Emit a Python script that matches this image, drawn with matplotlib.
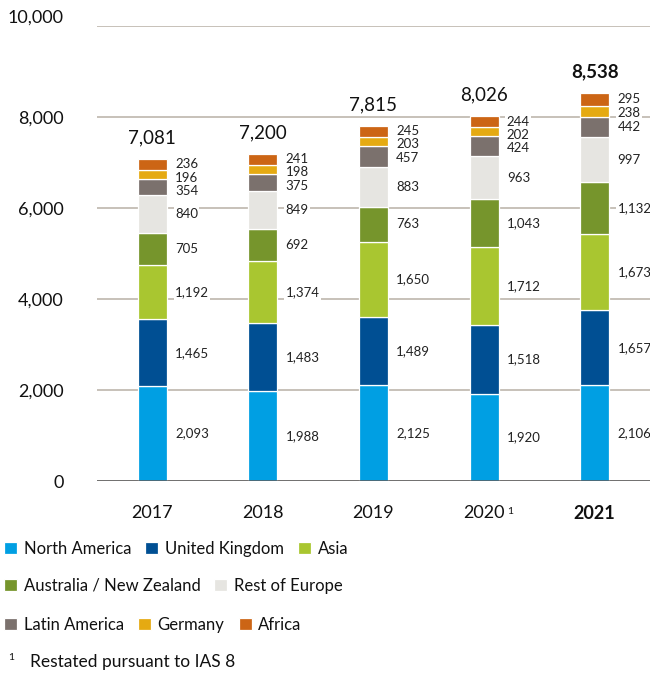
import matplotlib
matplotlib.use("Agg")
import matplotlib.pyplot as plt
import matplotlib.transforms as mtransforms
import numpy as np

plt.rcParams['font.family'] = ['Lato', 'DejaVu Sans']

years = ['2017', '2018', '2019', '2020', '2021']
regions = ['North America', 'United Kingdom', 'Asia', 'Australia / New Zealand',
           'Rest of Europe', 'Latin America', 'Germany', 'Africa']
colors = ['#009fe3', '#004f93', '#a9c630', '#76952c',
          '#e6e5e1', '#7b716d', '#e5aa12', '#cc6515']

north_america = [2093, 1988, 2125, 1920, 2106]
united_kingdom = [1465, 1483, 1489, 1518, 1657]
asia = [1192, 1374, 1650, 1712, 1673]
australia_nz = [705, 692, 763, 1043, 1132]
rest_of_europe = [840, 849, 883, 963, 997]
latin_america = [354, 375, 457, 424, 442]
germany = [196, 198, 203, 202, 238]
africa = [236, 241, 245, 244, 295]
totals = [7081, 7200, 7815, 8026, 8538]

series = [north_america, united_kingdom, asia, australia_nz,
          rest_of_europe, latin_america, germany, africa]

fig = plt.figure(figsize=(6.5, 6.74), dpi=100)
ax = fig.add_axes([0.149, 0.286, 0.851, 0.675])

x = np.arange(len(years))
w = 0.262
bottom = np.zeros(len(years))
bars = []
for vals, col, name in zip(series, colors, regions):
    b = ax.bar(x, vals, w, bottom=bottom, color=col, edgecolor='white',
               linewidth=0.9, label=name, zorder=3)
    bars.append(b)
    bottom += np.array(vals)

# segment value labels, pushed apart at the top where segments are thin
min_gap = 290
for i in range(len(years)):
    tops = np.cumsum([s[i] for s in series])
    prev = None
    for k in range(len(series) - 1, -1, -1):
        c = tops[k] - series[k][i] / 2
        if prev is not None:
            c = min(c, prev - min_gap)
        prev = c
        ax.annotate(f"{series[k][i]:,}", xy=(x[i] + w / 2, c), xytext=(6, 0),
                    textcoords='offset points', va='center', ha='left',
                    fontsize=9.5, color='#222222', zorder=4,
                    bbox=dict(facecolor='white', edgecolor='none', pad=1.0))

for i, t in enumerate(totals):
    ax.annotate(f"{t:,}", xy=(x[i], t), xytext=(0, 15), textcoords='offset points',
                ha='center', va='center', fontsize=13.5, color='#111111',
                fontweight='bold' if i == len(totals) - 1 else 'normal')

ax.set_xlim(-0.5, 4.5)
ax.set_ylim(0, 10000)
ax.set_yticks(range(0, 10001, 2000))
ax.set_yticklabels([f"{v:,}" for v in range(0, 10001, 2000)])
ax.yaxis.grid(True, color='#bdb6ad', linewidth=1.2, zorder=0)
ax.set_axisbelow(True)
ax.axhline(0, color='#58585a', linewidth=1.8, zorder=5)
for s in ax.spines.values():
    s.set_visible(False)
ax.tick_params(axis='y', length=0, pad=24, labelsize=13, labelcolor='#111111')
ax.tick_params(axis='x', length=0, pad=17, labelsize=13, labelcolor='#111111')
ax.set_xticks(x)
ax.set_xticklabels(years)
ax.get_xticklabels()[-1].set_fontweight('bold')
# top tick label sits a little above its grid line
top_lbl = ax.get_yticklabels()[-1]
top_lbl.set_transform(top_lbl.get_transform() +
                      mtransforms.ScaledTranslation(0, 10 / 100, fig.dpi_scale_trans))
ax.annotate('1', xy=(3, 0), xytext=(17, -22), textcoords='offset points',
            ha='left', va='center', fontsize=7.5, color='#111111')

rows = [[0, 1, 2], [3, 4], [5, 6, 7]]
row_y = [0.1855, 0.1306, 0.0727]
for r, yy in zip(rows, row_y):
    fig.legend([bars[k] for k in r], [regions[k] for k in r], loc='center left',
               bbox_to_anchor=(0.006, yy), ncol=len(r), frameon=False,
               fontsize=12, handlelength=0.78, handleheight=0.78,
               handletextpad=0.4, columnspacing=0.85, borderpad=0, borderaxespad=0,
               labelcolor='#111111')

fig.text(0.012, 0.025, '1', fontsize=7.5, color='#111111', va='center')
fig.text(0.046, 0.018, 'Restated pursuant to IAS 8', fontsize=12.5,
         color='#111111', va='center')

fig.savefig('out.png', dpi=100)
